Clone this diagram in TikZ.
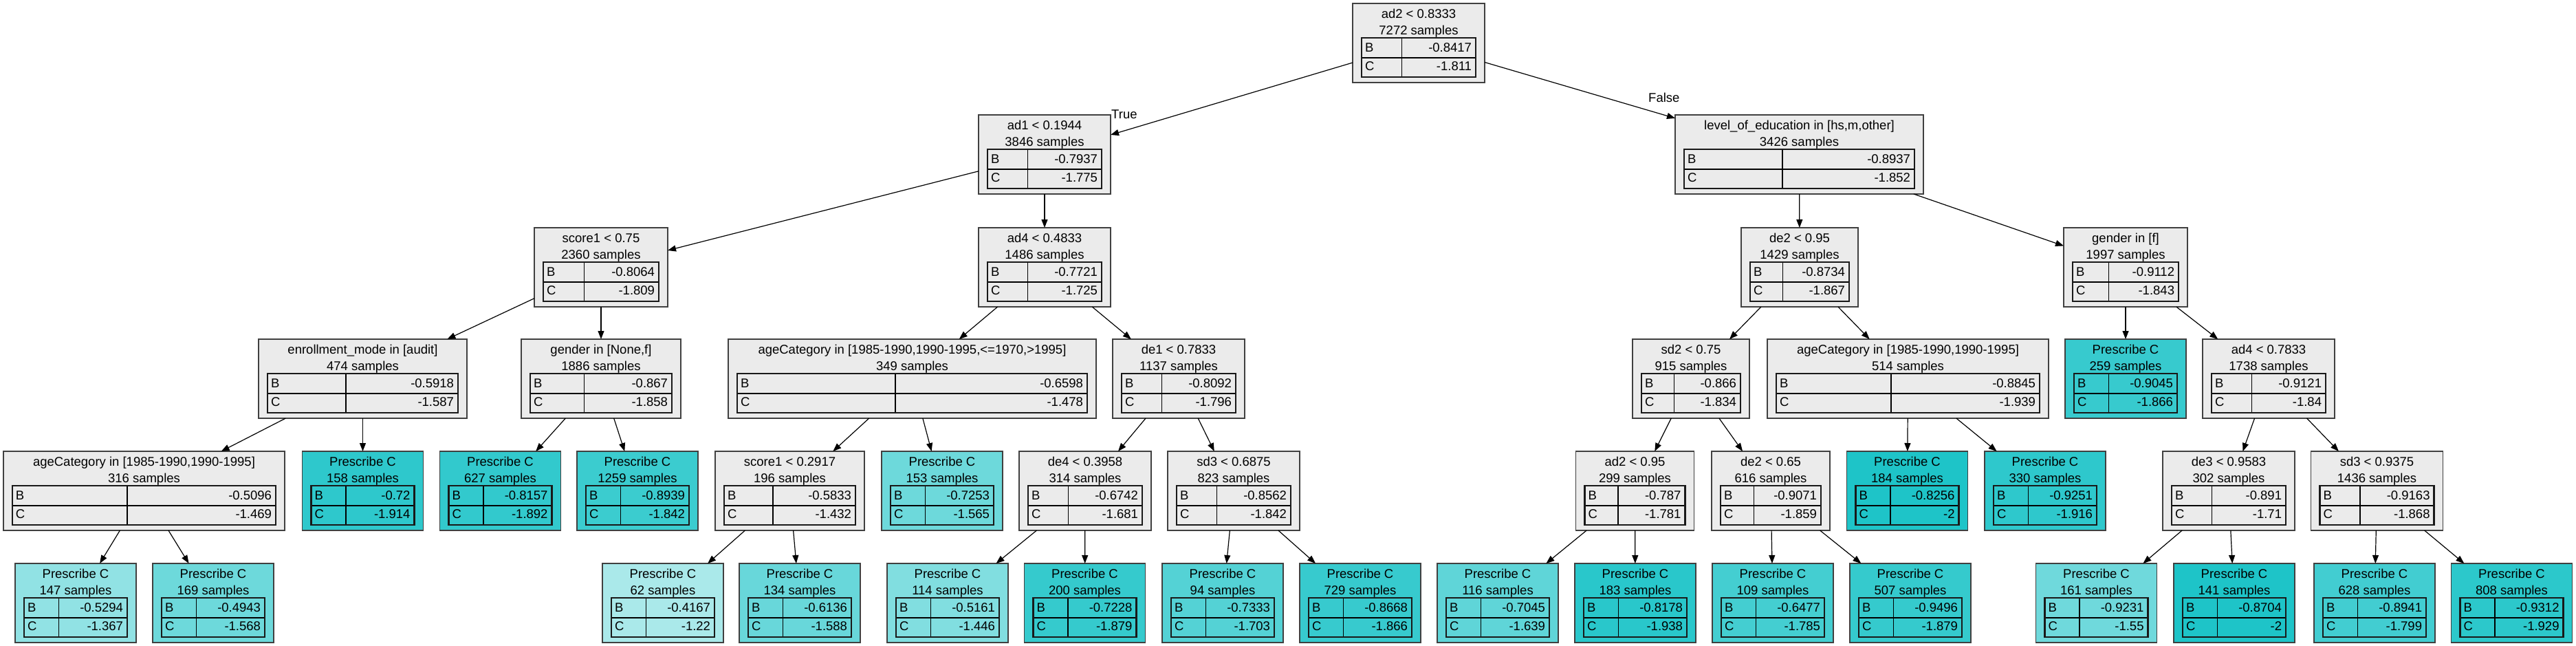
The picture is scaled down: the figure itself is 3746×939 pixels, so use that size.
\documentclass[tikz,border=0pt]{standalone}
\usepackage{fontspec}
\setmainfont{Liberation Sans}
\usetikzlibrary{arrows.meta}
\definecolor{leafbase}{HTML}{1EC4C8}
\definecolor{grayfill}{HTML}{EBEBEB}
\definecolor{boxline}{HTML}{404040}
\newcommand\tn[9]{%
  \node[nbox, fill=#5, minimum width=#4pt] (#1) at (#2, #3+57.5) {};
  \node[txt] at (#2, #3+21.7) {#6};
  \node[txt] at (#2, #3+45.3) {#7};
  \pgfmathsetmacro\tnL{#2-#4/2+13}%
  \pgfmathsetmacro\tnR{#2+#4/2-13}%
  \pgfmathsetmacro\tnD{\tnL+(#4-26-49)/2}%
  \draw[innerline] (\tnL, #3+79) -- (\tnR, #3+79);
  \draw[innerline] (\tnD, #3+50) -- (\tnD, #3+107);
  \draw[outerline] (\tnL, #3+50) rectangle (\tnR, #3+107);
  \node[txt, anchor=base west] at (\tnL+5, #3+70.3) {B};
  \node[txt, anchor=base east] at (\tnR-6, #3+70.3) {#8};
  \node[txt, anchor=base west] at (\tnL+5, #3+97.7) {C};
  \node[txt, anchor=base east] at (\tnR-6, #3+97.7) {#9};
}
\newcommand\gn[8]{\tn{#1}{#2}{#3}{#4}{grayfill}{#5}{#6}{#7}{#8}}
\newcommand\lf[7]{\tn{#1}{#2}{#3}{176}{leafbase!#4!white}{Prescribe C}{#5 samples}{#6}{#7}}
\begin{document}
\begin{tikzpicture}[x=1pt, y=-1pt,
  nbox/.style={draw=boxline, line width=1.8pt, rectangle, inner sep=0pt, outer sep=0pt, minimum height=115pt},
  txt/.style={anchor=base, inner sep=0pt, outer sep=0pt, font=\fontsize{18.5}{20}\selectfont},
  innerline/.style={line width=1.3pt, draw=black},
  outerline/.style={line width=2.6pt, draw=black!90},
  edge/.style={draw=black, line width=1.2pt, -{Triangle[length=12pt,width=9pt]}},
  elabel/.style={anchor=base west, inner sep=0pt, font=\fontsize{18.5}{20}\selectfont}]
\fill[white] (0,0) rectangle (3746,939);
\useasboundingbox (0,0) rectangle (3746,939);
% row 0
\gn{root}{2063}{5}{192}{ad2 < 0.8333}{7272 samples}{-0.8417}{-1.811}
% row 1
\gn{adA}{1519}{167}{192}{ad1 < 0.1944}{3846 samples}{-0.7937}{-1.775}
\gn{loe}{2616.5}{167}{361}{level\_of\_education in [hs,m,other]}{3426 samples}{-0.8937}{-1.852}
% row 2
\gn{scoreA}{874}{331}{194}{score1 < 0.75}{2360 samples}{-0.8064}{-1.809}
\gn{adB}{1519}{331}{192}{ad4 < 0.4833}{1486 samples}{-0.7721}{-1.725}
\gn{deA}{2617}{331}{170}{de2 < 0.95}{1429 samples}{-0.8734}{-1.867}
\gn{genF}{3091}{331}{180}{gender in [f]}{1997 samples}{-0.9112}{-1.843}
% row 3
\gn{enr}{527.5}{493}{303}{enrollment\_mode in [audit]}{474 samples}{-0.5918}{-1.587}
\gn{genNF}{874}{493}{232}{gender in [None,f]}{1886 samples}{-0.867}{-1.858}
\gn{ageA}{1326.5}{493}{535}{ageCategory in [1985-1990,1990-1995,<=1970,>1995]}{349 samples}{-0.6598}{-1.478}
\gn{deB}{1714}{493}{192}{de1 < 0.7833}{1137 samples}{-0.8092}{-1.796}
\gn{sdA}{2459}{493}{170}{sd2 < 0.75}{915 samples}{-0.866}{-1.834}
\gn{ageB}{2774.5}{493}{409}{ageCategory in [1985-1990,1990-1995]}{514 samples}{-0.8845}{-1.939}
\lf{pA}{3091}{493}{89}{259}{-0.9045}{-1.866}
\gn{adC}{3299}{493}{192}{ad4 < 0.7833}{1738 samples}{-0.9121}{-1.84}
% row 4
\gn{ageC}{209.5}{656}{409}{ageCategory in [1985-1990,1990-1995]}{316 samples}{-0.5096}{-1.469}
\lf{pB}{527.5}{656}{93}{158}{-0.72}{-1.914}
\lf{pC}{727.5}{656}{91}{627}{-0.8157}{-1.892}
\lf{pD}{927}{656}{87}{1259}{-0.8939}{-1.842}
\gn{scoreB}{1148.5}{656}{217}{score1 < 0.2917}{196 samples}{-0.5833}{-1.432}
\lf{pE}{1370}{656}{65}{153}{-0.7253}{-1.565}
\gn{deC}{1578}{656}{192}{de4 < 0.3958}{314 samples}{-0.6742}{-1.681}
\gn{sdB}{1794}{656}{192}{sd3 < 0.6875}{823 samples}{-0.8562}{-1.842}
\gn{adD}{2377.5}{656}{172}{ad2 < 0.95}{299 samples}{-0.787}{-1.781}
\gn{deD}{2575}{656}{172}{de2 < 0.65}{616 samples}{-0.9071}{-1.859}
\lf{pF}{2773.5}{656}{100}{184}{-0.8256}{-2}
\lf{pG}{2974}{656}{93}{330}{-0.9251}{-1.916}
\gn{deE}{3241}{656}{192}{de3 < 0.9583}{302 samples}{-0.891}{-1.71}
\gn{sdC}{3456.5}{656}{192}{sd3 < 0.9375}{1436 samples}{-0.9163}{-1.868}
% row 5
\lf{qA}{110}{819}{49}{147}{-0.5294}{-1.367}
\lf{qB}{310}{819}{65}{169}{-0.4943}{-1.568}
\lf{qC}{964}{819}{38}{62}{-0.4167}{-1.22}
\lf{qD}{1163}{819}{67}{134}{-0.6136}{-1.588}
\lf{qE}{1378}{819}{56}{114}{-0.5161}{-1.446}
\lf{qF}{1577.5}{819}{90}{200}{-0.7228}{-1.879}
\lf{qG}{1778}{819}{76}{94}{-0.7333}{-1.703}
\lf{qH}{1978}{819}{89}{729}{-0.8668}{-1.866}
\lf{qI}{2178}{819}{71}{116}{-0.7045}{-1.639}
\lf{qJ}{2378}{819}{95}{183}{-0.8178}{-1.938}
\lf{qK}{2578}{819}{83}{109}{-0.6477}{-1.785}
\lf{qL}{2778}{819}{90}{507}{-0.9496}{-1.879}
\lf{qM}{3048.5}{819}{64}{161}{-0.9231}{-1.55}
\lf{qN}{3249}{819}{100}{141}{-0.8704}{-2}
\lf{qO}{3453}{819}{84}{628}{-0.8941}{-1.799}
\lf{qP}{3652.5}{819}{94}{808}{-0.9312}{-1.929}
% edges
\draw[edge] (root) -- (adA);
\draw[edge] (root) -- (loe);
\node[elabel] (lTrue) at (1616,172) {True};
\node[elabel] (lFalse) at (2397,148) {False};
\draw[edge] (adA) -- (scoreA);
\draw[edge] (adA) -- (adB);
\draw[edge] (scoreA) -- (enr);
\draw[edge] (scoreA) -- (genNF);
\draw[edge] (adB) -- (ageA);
\draw[edge] (adB) -- (deB);
\draw[edge] (enr) -- (ageC);
\draw[edge] (enr) -- (pB);
\draw[edge] (ageC) -- (qA);
\draw[edge] (ageC) -- (qB);
\draw[edge] (genNF) -- (pC);
\draw[edge] (genNF) -- (pD);
\draw[edge] (ageA) -- (scoreB);
\draw[edge] (ageA) -- (pE);
\draw[edge] (scoreB) -- (qC);
\draw[edge] (scoreB) -- (qD);
\draw[edge] (deB) -- (deC);
\draw[edge] (deB) -- (sdB);
\draw[edge] (deC) -- (qE);
\draw[edge] (deC) -- (qF);
\draw[edge] (sdB) -- (qG);
\draw[edge] (sdB) -- (qH);
\draw[edge] (loe) -- (deA);
\draw[edge] (loe) -- (genF);
\draw[edge] (deA) -- (sdA);
\draw[edge] (deA) -- (ageB);
\draw[edge] (sdA) -- (adD);
\draw[edge] (sdA) -- (deD);
\draw[edge] (adD) -- (qI);
\draw[edge] (adD) -- (qJ);
\draw[edge] (deD) -- (qK);
\draw[edge] (deD) -- (qL);
\draw[edge] (ageB) -- (pF);
\draw[edge] (ageB) -- (pG);
\draw[edge] (genF) -- (pA);
\draw[edge] (genF) -- (adC);
\draw[edge] (adC) -- (deE);
\draw[edge] (adC) -- (sdC);
\draw[edge] (deE) -- (qM);
\draw[edge] (deE) -- (qN);
\draw[edge] (sdC) -- (qO);
\draw[edge] (sdC) -- (qP);
\end{tikzpicture}
\end{document}
